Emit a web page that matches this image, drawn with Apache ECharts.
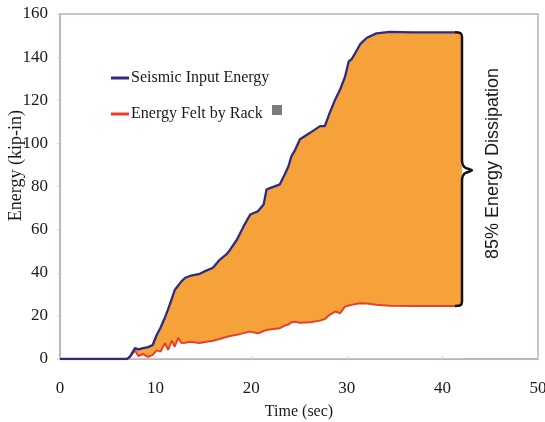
<!DOCTYPE html>
<html>
<head>
<meta charset="utf-8">
<script src="https://cdn.jsdelivr.net/npm/echarts@6/dist/echarts.min.js"></script>
<style>
html,body{margin:0;padding:0;background:#fff;}
#c{width:545px;height:422px;}
</style>
</head>
<body>
<div id="c"></div>
<script>
var timeSec = [0, 7, 7.3, 7.85, 8.2, 8.7, 9.2, 9.7, 10.1, 10.5, 11, 11.3, 11.7, 12, 12.35, 12.7, 13.1, 13.6, 14.6, 15.3, 16, 16.7, 17.4, 17.8, 18.5, 19.2, 19.9, 20.7, 21.3, 21.6, 22.1, 23, 23.5, 23.9, 24.2, 24.6, 25.1, 26.2, 27.2, 27.7, 28.2, 28.8, 29.3, 29.8, 30.2, 30.5, 30.9, 31.4, 32.1, 33.1, 34.5, 36.9, 41.3];
var seismicInput = [0, 0, 1, 5, 4.5, 5, 5.5, 6.5, 11, 14.4, 19.5, 23, 28, 32, 34, 36, 37.7, 38.5, 39.5, 41, 42.3, 46, 48.5, 50.7, 55.3, 61.5, 67, 68.5, 71.6, 78.6, 79.5, 81, 85.6, 89.4, 94, 97, 101.9, 105, 108, 108, 114, 120.5, 125, 130.7, 138, 139, 142, 146, 149, 151, 151.7, 151.5, 151.5];
var feltByRack = [0, 0, 1, 3.9, 1.4, 2.3, 1, 1.9, 4, 3.4, 7.4, 4.2, 8.5, 5.7, 9.8, 7.4, 7.5, 8, 7.4, 8, 8.5, 9.3, 10.2, 10.7, 11.2, 12, 12.7, 11.9, 13, 13.5, 13.8, 14.3, 15.5, 16, 17, 17.3, 16.8, 17, 17.8, 18.5, 20.5, 22, 21.2, 24.3, 24.8, 25.1, 25.5, 25.9, 25.7, 25.2, 24.7, 24.6, 24.6];
var xTicks = [0, 10, 20, 30, 40, 50];
var yTicks = [0, 20, 40, 60, 80, 100, 120, 140, 160];
// brace annotation (time, energy)
var braceT = [41.3, 41.85, 42.05, 42.05, 42.3, 43.1, 42.3, 42.05, 42.05, 41.85, 41.3];
var braceE = [151.5, 151.2, 149.5, 92, 89, 87.5, 86, 83, 26.6, 24.9, 24.6];

var seriesLabels = ['Seismic Input Energy', 'Energy Felt by Rack'];

function pairs(xs, ys) { return xs.map(function (x, i) { return [x, ys[i]]; }); }
var lastI = timeSec.length - 1;
// fill reaches the brace's vertical stroke
var fillTop = pairs(timeSec, seismicInput).concat([[braceT[2], seismicInput[lastI]]]);
var fillBottom = pairs(timeSec, feltByRack).concat([[braceT[2], feltByRack[lastI]]]);

var chart = echarts.init(document.getElementById('c'), null, {renderer: 'canvas'});
var serif = 'Liberation Serif, Times New Roman, serif';
var frame = '#bcb1aa';
chart.setOption({
  backgroundColor: '#fff',
  animation: false,
  grid: {left: 60, right: 7, top: 14, bottom: 63, show: true, borderColor: frame, borderWidth: 1.5, backgroundColor: 'transparent', outerBoundsMode: 'none', containLabel: false},
  legend: {
    data: seriesLabels,
    orient: 'vertical', left: 106, top: 65, itemGap: 20,
    itemWidth: 18, itemHeight: 3, icon: 'rect', itemStyle: {borderWidth: 0},
    textStyle: {fontFamily: serif, fontSize: 16, color: '#1a1a1a', padding: [0, 0, 0, -3]}
  },
  xAxis: {
    type: 'value', min: xTicks[0], max: xTicks[xTicks.length - 1], interval: 10, z: 3,
    name: 'Time (sec)', nameLocation: 'middle', nameGap: 45,
    nameTextStyle: {fontFamily: serif, fontSize: 16, color: '#1a1a1a'},
    axisLine: {lineStyle: {color: frame, width: 1.5}},
    axisTick: {show: true, inside: true, length: 3, lineStyle: {color: '#d8d0cc'}},
    splitLine: {show: false},
    axisLabel: {fontFamily: serif, fontSize: 17, color: '#1a1a1a', margin: 21}
  },
  yAxis: {
    type: 'value', min: yTicks[0], max: yTicks[yTicks.length - 1], interval: 20, z: 3,
    axisLine: {show: true, lineStyle: {color: frame, width: 1.5}},
    axisTick: {show: true, length: 3, lineStyle: {color: '#d8d0cc'}},
    splitLine: {show: false},
    axisLabel: {fontFamily: serif, fontSize: 17, color: '#1a1a1a', margin: 12}
  },
  graphic: [
    {type: 'text', left: 7, top: 110, rotation: Math.PI / 2, style: {text: 'Energy (kip-in)', font: '18px ' + serif, fill: '#1a1a1a'}, z: 10},
    {type: 'rect', left: 272, top: 105, shape: {width: 10, height: 10}, style: {fill: '#7b7b7d'}, z: 10},
    {type: 'text', left: 484, top: 68, rotation: Math.PI / 2, style: {text: '85% Energy Dissipation', font: '18px Liberation Sans, Arial, sans-serif', fill: '#1a1a1a'}, z: 10}
  ],
  series: [
    {
      name: 'fillTop', type: 'line', data: fillTop,
      showSymbol: false, symbol: 'none', lineStyle: {width: 0, opacity: 0},
      areaStyle: {color: '#f6a23a', opacity: 1, origin: 'start'}, z: 1, silent: true
    },
    {
      name: 'fillBottom', type: 'line', data: fillBottom,
      showSymbol: false, symbol: 'none', lineStyle: {width: 0, opacity: 0},
      areaStyle: {color: '#ffffff', opacity: 1, origin: 'start'}, z: 2, silent: true
    },
    {
      name: seriesLabels[1], type: 'line', data: pairs(timeSec, feltByRack),
      showSymbol: false, symbol: 'none', lineStyle: {color: '#e8402a', width: 2}, itemStyle: {color: '#e8402a'}, z: 4
    },
    {
      name: seriesLabels[0], type: 'line', data: pairs(timeSec, seismicInput),
      showSymbol: false, symbol: 'none', lineStyle: {color: '#2e2a86', width: 2.3}, itemStyle: {color: '#2e2a86'}, z: 5
    },
    {
      name: 'brace', type: 'line', data: pairs(braceT, braceE), smooth: 0.25,
      showSymbol: false, symbol: 'none', lineStyle: {color: '#111', width: 2.5}, z: 6, silent: true
    }
  ]
});
</script>
</body>
</html>
